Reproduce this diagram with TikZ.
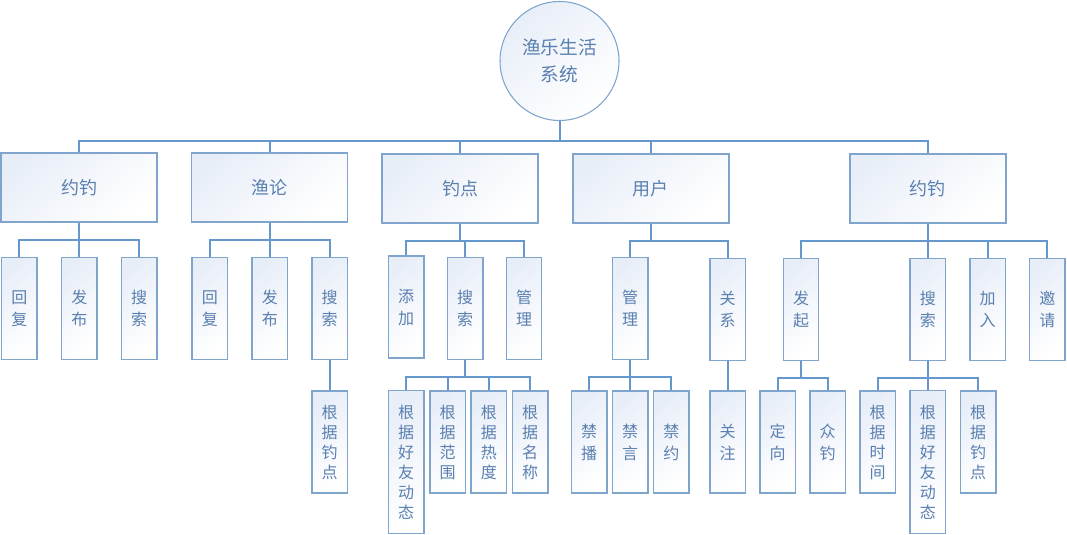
\documentclass[tikz,border=0pt]{standalone}
\usepackage{fontspec}
\setmainfont{Noto Sans CJK SC}
\definecolor{bd}{HTML}{7FA5CD}
\definecolor{ln}{HTML}{6497CB}
\definecolor{tx}{HTML}{5A80B0}
\definecolor{sh}{HTML}{E8EEF8}
\tikzset{
  base/.style={draw=bd, line width=1.1pt, inner sep=0pt, text=tx, align=center,
    top color=sh, bottom color=white, shading angle=40},
  top/.style={base, minimum width=117pt, minimum height=51.75pt, font=\fontsize{13.5pt}{17pt}\selectfont},
  lf/.style={base, minimum width=26.6pt, minimum height=76.5pt, font=\fontsize{12pt}{16.5pt}\selectfont},
  lfb/.style={lf, font=\fontsize{12pt}{15pt}\selectfont},
  tall/.style={minimum height=107pt},
  rootc/.style={base, circle, minimum size=89.25pt, line width=0.8pt, font=\fontsize{14pt}{20pt}\selectfont},
  conn/.style={draw=ln, line width=1.5pt},
}
\begin{document}
\begin{tikzpicture}[x=0.75pt,y=-0.75pt]
\useasboundingbox (0,0) rectangle (1067,535);
% root
\node[rootc] (root) at (559.5,61) {渔乐生活\\系统};
% level 1
\node[top] (A) at (79.2,187.5) {约钓};
\node[top] (B) at (269.7,187.5) {渔论};
\node[top] (C) at (460,188.5) {钓点};
\node[top] (D) at (650.9,188.5) {用户};
\node[top] (E) at (927.8,188.5) {约钓};
% A children
\node[lf] (A1) at (19.3,308.3) {回\\复};
\node[lf] (A2) at (79.4,308.3) {发\\布};
\node[lf] (A3) at (139.1,308.3) {搜\\索};
% B children
\node[lf] (B1) at (209.9,308.3) {回\\复};
\node[lf] (B2) at (269.8,308.3) {发\\布};
\node[lf] (B3) at (329.5,308.3) {搜\\索};
\node[lfb] (B31) at (329.5,442) {根\\据\\钓\\点};
% C children
\node[lf] (C1) at (406.2,307.2) {添\\加};
\node[lf] (C2) at (465.2,308.3) {搜\\索};
\node[lf] (C3) at (524,308.3) {管\\理};
\node[lfb, tall] (C21) at (406.2,462) {根\\据\\好\\友\\动\\态};
\node[lfb] (C22) at (447.5,442) {根\\据\\范\\围};
\node[lfb] (C23) at (488.8,442) {根\\据\\热\\度};
\node[lfb] (C24) at (530.2,442) {根\\据\\名\\称};
% D children
\node[lf] (D1) at (630.2,308.3) {管\\理};
\node[lf] (D2) at (727.6,309.7) {关\\系};
\node[lf] (D11) at (589.1,442) {禁\\播};
\node[lf] (D12) at (630.2,442) {禁\\言};
\node[lf] (D13) at (671.4,442) {禁\\约};
\node[lf] (D21) at (727.6,442) {关\\注};
% E children
\node[lf] (E1) at (801,309.3) {发\\起};
\node[lf] (E2) at (927.8,309.3) {搜\\索};
\node[lf] (E3) at (987.7,309.3) {加\\入};
\node[lf] (E4) at (1047.4,309.3) {邀\\请};
\node[lf] (E11) at (777.6,442) {定\\向};
\node[lf] (E12) at (827.6,442) {众\\钓};
\node[lfb] (E21) at (877.6,442) {根\\据\\时\\间};
\node[lfb, tall] (E22) at (927.8,462) {根\\据\\好\\友\\动\\态};
\node[lfb] (E23) at (978.2,442) {根\\据\\钓\\点};
% bars
\coordinate (rb) at (root.south |- 0,141.2);
\coordinate (Ab) at (A.south |- 0,239.5);
\coordinate (Bb) at (B.south |- 0,239.5);
\coordinate (Cb) at (C.south |- 0,240.7);
\coordinate (Db) at (D.south |- 0,240.7);
\coordinate (Eb) at (E.south |- 0,240.7);
\coordinate (C2b) at (C2.south |- 0,376.7);
\coordinate (D1b) at (D1.south |- 0,376.7);
\coordinate (E1b) at (E1.south |- 0,378.3);
\coordinate (E2b) at (E2.south |- 0,378.3);
% connectors
\draw[conn] (root.south) -- (rb);
\foreach \n in {A,B,C,D,E} \draw[conn] (\n.north) |- (rb);
\foreach \p/\cs in {A/{A1,A2,A3}, B/{B1,B2,B3}, C/{C1,C2,C3}, D/{D1,D2}, E/{E1,E2,E3,E4}}{
  \draw[conn] (\p.south) -- (\p b);
  \foreach \c in \cs \draw[conn] (\c.north) |- (\p b);
}
\draw[conn] (B3.south) -- (B31.north);
\draw[conn] (D2.south) -- (D21.north);
\draw[conn] (C2.south) -- (C2b);
\foreach \c in {C21,C22,C23,C24} \draw[conn] (\c.north) |- (C2b);
\draw[conn] (D1.south) -- (D1b);
\foreach \c in {D11,D12,D13} \draw[conn] (\c.north) |- (D1b);
\draw[conn] (E1.south) -- (E1b);
\foreach \c in {E11,E12} \draw[conn] (\c.north) |- (E1b);
\draw[conn] (E2.south) -- (E2b);
\foreach \c in {E21,E22,E23} \draw[conn] (\c.north) |- (E2b);
\end{tikzpicture}
\end{document}
